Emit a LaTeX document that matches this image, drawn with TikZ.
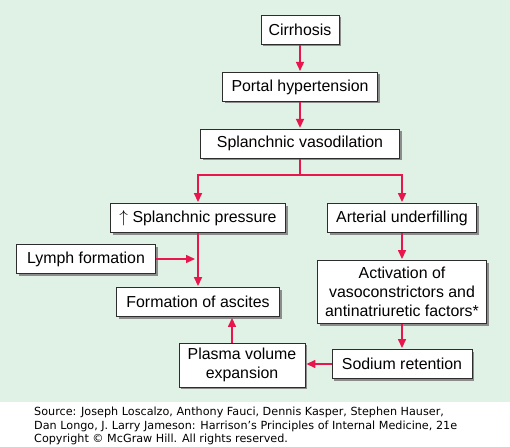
\documentclass[tikz,border=0pt]{standalone}
\usepackage{fontspec}
\setmainfont{Liberation Sans}
\newfontfamily\srcfont{DejaVu Sans}
\usepackage{tikz}
\usetikzlibrary{positioning,arrows.meta,shadows,calc}

\definecolor{panelgreen}{RGB}{224,241,230}
\definecolor{arrowred}{RGB}{232,22,76}
\definecolor{boxline}{RGB}{45,45,45}

\tikzset{
  box/.style={draw=boxline,line width=0.9pt,fill=white,inner xsep=6pt,inner ysep=3pt,
    minimum height=29pt,align=center,
    drop shadow={shadow xshift=2pt,shadow yshift=-2pt,fill=black!45,opacity=1}},
  link/.style={arrowred,line width=1.5pt,-{Triangle[length=9pt,width=8pt]},shorten >=1pt}
}

\begin{document}
\begin{tikzpicture}[x=1pt,y=-1pt,every node/.style={font=\fontsize{15.9}{19}\selectfont}]
        \useasboundingbox (0,0) rectangle (510,446);
        \fill[panelgreen] (0,0) rectangle (510,402);
        % main chain
        \node[box,minimum width=78pt] (cirr) at (300,30) {Cirrhosis};
        \node[box,minimum width=155pt,below=27pt of cirr] (portal) {Portal hypertension};
        \node[box,minimum width=199pt,below=27pt of portal] (vaso) {Splanchnic vasodilation};
        % left branch
        \node[box,minimum width=175pt] (press) at (198,218) {$\uparrow$ Splanchnic pressure};
        \node[box,minimum width=139pt] (lymph) at (86,259) {Lymph formation};
        \node[box,minimum width=163pt] (ascites) at (198,302) {Formation of ascites};
        \node[box,minimum width=126pt,minimum height=44pt] (plasma) at (242,365) {Plasma volume\\expansion};
        % right branch
        \node[box,minimum width=149pt] (under) at (402,218) {Arterial underfilling};
        \node[box,minimum width=169pt,minimum height=63pt] (activ) at (402,292) {Activation of\\vasoconstrictors and\\antinatriuretic factors*};
        \node[box,minimum width=140pt] (sodium) at (402,364) {Sodium retention};
        \coordinate (split) at (300,175);
        \draw[link] (cirr) -- (portal);
        \draw[link] (portal) -- (vaso);
        \draw[arrowred,line width=1.5pt] (vaso) -- (split);
        \draw[link] (split) -| (press.north);
        \draw[link] (split) -| (under.north);
        \draw[link] (press) -- (ascites);
        \draw[link,shorten >=3pt] (lymph.east) -- (lymph.east -| press.south);
        \draw[link] (under) -- (activ);
        \draw[link] (activ) -- (sodium);
        \draw[link] (sodium.west) -- (sodium.west -| plasma.east);
        \coordinate (up) at ($(plasma.north)+(-10,0)$);
        \draw[link] (up) -- (up |- ascites.south);
        % source line
        \node[anchor=north west,inner sep=0pt,align=left,font=\srcfont\fontsize{11.2}{13.5}\selectfont] (src) at (34,407)
          {Source: Joseph Loscalzo, Anthony Fauci, Dennis Kasper, Stephen Hauser,\\
           Dan Longo, J. Larry Jameson: Harrison’s Principles of Internal Medicine, 21e\\
           Copyright © McGraw Hill. All rights reserved.};
      \end{tikzpicture}
\end{document}
